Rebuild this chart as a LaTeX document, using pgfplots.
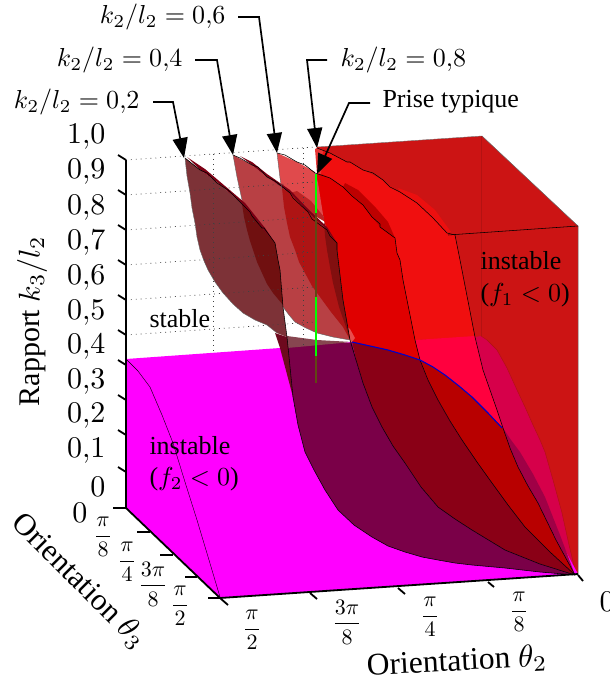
\documentclass[border=0pt]{standalone}
\usepackage[no-math]{fontspec}
\setmainfont{Liberation Serif}
\usepackage{pgfplots}
\pgfplotsset{compat=1.18}
\usetikzlibrary{arrows.meta}
\newcommand\poly[2]{\addplot[fill=#1,draw=none,forget plot] coordinates {#2};}
\newcommand\edge[2][black,line width=0.55pt]{\addplot[#1,line join=round,forget plot] coordinates {#2};}
\newcommand\arrowed[1]{\addplot[black,line width=1.7pt,forget plot,-{Triangle[length=20pt,width=15pt]}] coordinates {#1};}
\newcommand\ttick[1]{\addplot[black,line width=1.8pt,forget plot] coordinates {#1};}
\newcommand\yl[2]{\node[anchor=east,inner sep=0pt,scale=3] at (axis cs:106,#1) {$#2$};}
\newcommand\fr[4]{\node[inner sep=0pt,scale=2.2] at (axis cs:#1,#2) {$\displaystyle\frac{#3}{#4}$};}
\newcommand\dotl[1]{\addplot[black!75,line width=0.7pt,dash pattern=on 0.9pt off 4pt,forget plot] coordinates {#1};}
\definecolor{wall}{RGB}{204,20,20}
\definecolor{crim}{RGB}{214,0,74}
\definecolor{mag}{RGB}{255,0,255}
\definecolor{brE}{RGB}{240,15,15}
\definecolor{brF}{RGB}{224,0,0}
\definecolor{pink}{RGB}{255,0,62}
\definecolor{wA}{RGB}{122,0,72}
\definecolor{wB}{RGB}{138,0,22}
\definecolor{wC}{RGB}{184,0,0}
\definecolor{sA}{RGB}{125,50,55}
\definecolor{sAd}{RGB}{112,16,16}
\definecolor{sB}{RGB}{184,64,68}
\definecolor{sBd}{RGB}{174,20,20}
\definecolor{sBe}{RGB}{130,15,15}
\definecolor{sC}{RGB}{224,74,76}
\definecolor{olive}{RGB}{96,72,20}
\definecolor{foldc}{RGB}{135,70,80}
\definecolor{foldd}{RGB}{110,10,30}
\definecolor{sliver}{RGB}{160,0,70}
\begin{document}
\begin{tikzpicture}
\path[use as bounding box] (0,0) rectangle (610pt,680pt);
\clip (0,0) rectangle (610pt,680pt);
\begin{axis}[hide axis,scale only axis,width=610pt,height=680pt,xmin=0,xmax=610,ymin=0,ymax=680,y dir=reverse,clip=false,no markers]
% wall and top
\poly{wall}{(317,147)(482,136)(578,226)(578,574)(400,400)(317,200)}
\edge[black!60,line width=0.5pt]{(482,136)(578,226)(578,574)}
\edge[black!55,line width=0.4pt]{(317,147)(482,136)}
\edge[wall!88!black,line width=0.5pt]{(481,136)(481,336)}
% crimson strip
\poly{crim}{(475,337)(481,336)(487,340)(497,350)(507,368)(517,390)(525,407)(533,425)(540,440)(545,452)(553,480)(562,513)(569,545)(576,574)(556,540)(538,503)(528,486)(518,467)(510,448)(503,428)(497,410)(483,370)}
\edge[wall!85!black,line width=0.4pt]{(481,336)(487,340)(497,350)(507,368)(517,390)(525,407)(533,425)(540,440)(545,452)(553,480)(562,513)(569,545)(576,574)}
% floor
\poly{mag}{(126,359)(280,348)(352,342)(420,360)(500,430)(578,574)(220,598)(126,508)}
\edge[black,line width=0.4pt]{(127,360)(138,371)(150,387)(162,415)(173,443)(185,482)(197,520)(209,560)(220,597)}
% strip above sheet 0.8
\poly{brE!90!wall}{(398,188)(417,195)(435,210)(451,232)(447,233)(433,218)(417,203)(400,192)}
% sheet 0.8 bright
\poly{brE}{(317,147)(330,153)(347,162)(350,162)(363,170)(383,180)(385,183)(400,192)(417,203)(433,218)(447,233)(455,235)(458,250)(460,260)(475,337)(415,340)(407,300)(400,260)(397,253)(395,238)(380,227)(363,205)(343,187)(330,178)(318,172)}
\poly{pink}{(415,340)(475,336)(483,370)(497,410)(503,428)(488,413)(472,397)(459,386)(445,375)(433,367)(420,360)}
% sheet 0.6 bright
\poly{brF}{(317,172)(330,178)(343,187)(363,205)(380,227)(395,238)(397,253)(400,260)(403,280)(407,300)(411,320)(415,340)(420,360)(405,355)(388,350)(370,346)(352,342)(350,340)(343,300)(337,250)(337,243)(327,230)(324,221)(318,183)}
\poly{brF!85!black}{(345,183)(358,190)(376,208)(388,222)(395,238)(380,227)(363,205)(343,187)}
\poly{brF!70!white}{(345,325)(350,329)(355,338)(352,342)(350,340)}
% lower wedges
\poly{wC}{(420,360)(433,367)(445,375)(459,386)(472,397)(488,413)(503,428)(510,448)(518,467)(528,486)(538,503)(556,540)(575,575)(550,552)(525,527)(508,505)(492,483)(477,462)(462,440)(450,421)(438,400)(428,380)}
\poly{wB}{(352,342)(370,346)(388,350)(405,355)(420,360)(428,380)(438,400)(450,421)(462,440)(477,462)(492,483)(508,505)(525,527)(550,552)(575,575)(540,564)(505,550)(472,530)(455,519)(438,507)(421,487)(405,463)(393,446)(382,427)(372,407)(363,383)(356,360)}
\poly{wA}{(287,340)(350,343)(352,342)(356,360)(363,383)(372,407)(382,427)(393,446)(405,463)(421,487)(438,507)(455,519)(472,530)(505,550)(540,564)(575,575)(540,572)(505,568)(472,565)(455,563)(438,560)(422,557)(405,552)(388,546)(372,537)(354,525)(338,510)(325,490)(314,470)(305,452)(298,425)(293,397)}
\poly{sliver}{(503,428)(511,440)(520,452)(533,474)(545,497)(560,535)(575,575)(556,540)(538,503)(528,486)(518,467)(510,448)}
% sheet 0.6 pale
\poly{sC}{(277,153)(297,162)(315,172)(318,183)(324,221)(308,212)(290,193)(281,186)(279,170)}
\poly{brF!80!white}{(315,149)(317,148)(323,150)(321,174)(317,174)}
\poly{sBd!70!sC}{(297,191)(311,201)(324,217)(324,221)(308,212)(290,193)}
% sheet 0.4
\poly{sB}{(233,155)(252,165)(267,177)(290,193)(308,212)(327,230)(337,243)(337,250)(343,300)(350,340)(333,337)(317,333)(306,328)(295,322)(289,315)(283,307)(262,260)(242,200)(237,177)}
\poly{sBd}{(282,188)(290,193)(308,212)(327,230)(337,243)(337,250)(343,300)(350,340)(349,338)(343,327)(331,312)(320,297)(312,286)(305,273)(299,262)(295,250)(290,237)(287,223)(284,207)}
\poly{sBe}{(324,222)(327,230)(337,243)(337,250)(343,300)(350,340)(347,330)(339,307)(333,283)(330,267)(327,250)(325,236)}
\poly{wB!90!black}{(240,156)(252,162)(267,174)(290,190)(308,209)(327,227)(337,243)(327,230)(308,212)(290,193)(267,177)(252,165)}
% sheet 0.2
\poly{sA}{(185,158)(200,170)(217,182)(240,202)(262,228)(275,243)(278,260)(280,270)(283,307)(287,337)(277,333)(267,325)(255,320)(243,313)(233,304)(223,293)(215,282)(208,270)(204,261)(200,250)(197,237)(195,223)(192,208)(190,193)(187,176)}
\poly{sAd}{(242,204)(262,228)(275,243)(278,260)(280,270)(283,305)(273,293)(267,284)(262,273)(257,262)(253,250)(250,241)(247,230)(244,217)}
\poly{wB!90!black}{(187,157)(205,169)(225,186)(245,203)(265,228)(275,243)(262,228)(240,202)(217,182)(200,170)}
% fold
\poly{foldc}{(287,336)(317,340)(352,342)(287,348)}
\poly{foldd}{(275,333)(287,337)(293,397)(280,348)}
% dotted grid
\dotl{(126,160)(315,147)}
\dotl{(126,195)(315,182)}
\dotl{(126,230)(315,217)}
\dotl{(126,265)(315,252)}
\dotl{(126,300)(315,287)}
\dotl{(126,335)(315,322)}
\dotl{(213,154)(213,352)}
\dotl{(303,148)(303,346)}
% edges
\edge{(185,158)(200,170)(207,173)(217,183)(228,190)(240,202)(250,212)(252,216)(262,228)(264,228)(275,243)(278,260)(280,270)(283,307)(287,337)(293,397)}
\edge{(233,155)(240,158)(252,165)(258,167)(267,177)(275,181)(290,193)(293,198)(308,212)(312,219)(327,230)(330,236)(337,243)(337,250)(343,300)(350,340)(356,360)(363,383)(372,407)(382,427)(393,446)(405,463)(421,487)(438,507)(455,519)(472,530)(505,550)(540,564)(575,575)}
\edge{(277,153)(285,155)(297,162)(305,165)(315,173)(330,178)(343,187)(352,196)(363,205)(372,217)(380,224)(380,227)(395,238)(397,253)(400,260)(403,280)(407,300)(411,320)(415,340)(420,360)(428,380)(438,400)(450,421)(462,440)(477,462)(492,483)(508,505)(525,527)(550,552)(575,575)}
\edge{(317,148)(330,153)(347,162)(350,162)(363,170)(373,173)(383,180)(390,187)(400,192)(417,203)(433,218)(447,233)(455,235)(458,250)(460,260)(475,337)(483,370)(497,410)(503,428)(510,448)(518,467)(528,486)(538,503)(556,540)(575,575)}
\edge{(448,235)(578,226)}
\edge{(293,397)(298,425)(305,452)(314,470)(325,490)(338,510)(354,525)(372,537)(388,546)(405,552)(422,557)(438,560)(455,563)(472,565)(505,568)(540,572)(575,575)}
\edge[black!60,line width=0.4pt]{(185,158)(187,176)(190,193)(192,208)(195,223)(197,237)(200,250)(204,261)(208,270)(215,282)(223,293)(233,304)(243,313)(255,320)(267,325)(277,333)}
\edge[black!60,line width=0.4pt]{(233,155)(237,177)(242,200)}
\edge[black!60,line width=0.4pt]{(283,307)(289,315)(295,322)(306,328)(317,333)(333,337)(350,340)}
\edge[black!60,line width=0.4pt]{(277,153)(280,178)(282,190)}
\edge[blue!80!black,line width=1.1pt]{(352,342)(370,346)(388,350)(405,355)(420,360)(433,367)(445,375)(459,386)(472,397)(488,413)(502,428)}
% typical line
\edge[olive,line width=1.6pt]{(316,213)(316,297)}
\edge[olive,line width=1.6pt]{(316,356)(316,383)}
\edge[green,line width=2.4pt]{(316,174)(316,213)}
\edge[green,line width=2.4pt]{(316,297)(316,356)}
% axes
\ttick{(126,160)(126,508)(220,598)(578,574)}
\ttick{(126,160)(118,155)}\ttick{(126,195)(118,190)}\ttick{(126,230)(118,225)}
\ttick{(126,265)(118,260)}\ttick{(126,300)(118,295)}\ttick{(126,335)(118,330)}
\ttick{(126,365)(118,360)}\ttick{(126,400)(118,395)}\ttick{(126,435)(118,430)}
\ttick{(126,472)(118,467)}
\ttick{(126,508)(113,508)}\ttick{(150,532)(137,532)}\ttick{(173,555)(160,555)}\ttick{(197,577)(185,577)}\ttick{(220,598)(208,598)}
\ttick{(220,598)(228,605)}\ttick{(310,593)(317,599)}\ttick{(398,588)(405,594)}\ttick{(488,582)(494,587)}\ttick{(578,575)(583,581)}
% annotations
\arrowed{(153,102)(173,102)(184,158)}
\arrowed{(195,60)(217,60)(233,155)}
\arrowed{(238,17)(259,17)(277,153)}
\arrowed{(327,60)(307,60)(317,148)}
\arrowed{(370,103)(349,103)(317,174)}
% tick labels
\yl{137}{1{,}0}\yl{172}{0{,}9}\yl{208}{0{,}8}\yl{243}{0{,}7}\yl{278}{0{,}6}\yl{313}{0{,}5}\yl{347}{0{,}4}\yl{382}{0{,}3}\yl{416}{0{,}2}\yl{451}{0{,}1}\yl{487}{0}
\node[inner sep=0pt,scale=3] at (axis cs:80,513) {$0$};
\fr{103}{537}{\pi}{8}
\fr{127}{562}{\pi}{4}
\fr{153}{584}{3\pi}{8}
\fr{180}{606}{\pi}{2}
\fr{252}{630}{\pi}{2}
\fr{347}{622}{3\pi}{8}
\fr{430}{617}{\pi}{4}
\fr{519}{612}{\pi}{8}
\node[inner sep=0pt,scale=3] at (axis cs:607,602) {$0$};
% titles
\node[rotate=90,inner sep=0pt,scale=3] at (axis cs:32,321) {Rapport $k_3/l_2$};
\node[rotate=-45,inner sep=0pt,scale=3.1] at (axis cs:79,581) {Orientation $\theta_3$};
\node[rotate=3,inner sep=0pt,scale=3.15] at (axis cs:457,662) {Orientation $\theta_2$};
% notes
\node[anchor=east,inner sep=0pt,scale=2.6] at (axis cs:140,102) {$k_2/l_2=0{,}2$};
\node[anchor=east,inner sep=0pt,scale=2.6] at (axis cs:183,60) {$k_2/l_2=0{,}4$};
\node[anchor=east,inner sep=0pt,scale=2.6] at (axis cs:226,17) {$k_2/l_2=0{,}6$};
\node[anchor=west,inner sep=0pt,scale=2.6] at (axis cs:340,60) {$k_2/l_2=0{,}8$};
\node[anchor=west,inner sep=0pt,scale=2.6] at (axis cs:382,102) {Prise typique};
\node[anchor=west,inner sep=0pt,scale=2.6] at (axis cs:149,319) {stable};
\node[anchor=west,inner sep=0pt,scale=2.6] at (axis cs:149,446) {instable};
\node[anchor=west,inner sep=0pt,scale=2.6] at (axis cs:149,479) {($f_2<0$)};
\node[anchor=west,inner sep=0pt,scale=2.6] at (axis cs:480,261) {instable};
\node[anchor=west,inner sep=0pt,scale=2.6] at (axis cs:480,295) {($f_1<0$)};
\end{axis}
\end{tikzpicture}
\end{document}
